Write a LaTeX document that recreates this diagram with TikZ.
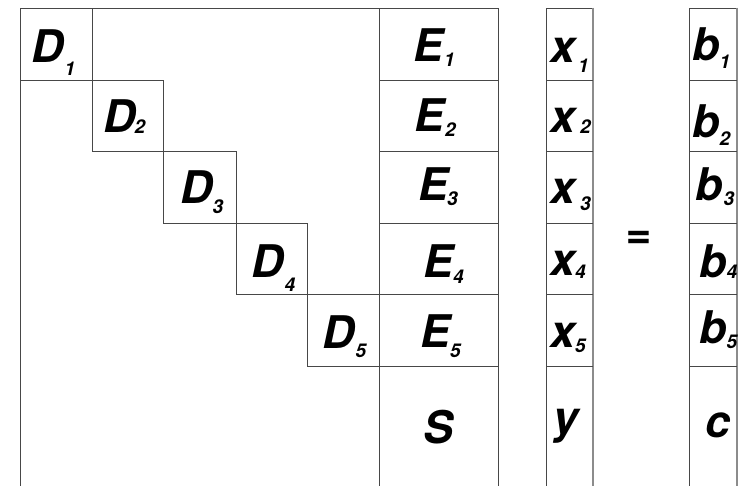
\documentclass[tikz,border=0pt]{standalone}
\usepackage{fontspec}
\setmainfont{TeX Gyre Heros}
\newcommand\mainsz{\fontsize{45}{45}\selectfont\bfseries\itshape}
\newcommand\subsz{\fontsize{19}{19}\selectfont\bfseries\itshape}
\newcommand\lbl[4]{{\mainsz #1}\kern#3pt\raisebox{-#4pt}{\subsz #2}}
\begin{document}
\begin{tikzpicture}[x=1pt,y=-1pt,
  gridline/.style={draw=black!72, line width=0.9pt},
  edgeline/.style={draw=black!45, line width=1.8pt},
  lab/.style={inner sep=0pt, anchor=base west}]
\useasboundingbox (0,0) rectangle (744,485);
% big matrix
\draw[gridline] (20,490) -- (20,8) -- (498,8) -- (498,490);
\draw[gridline] (20,8) rectangle (92,80);
\draw[gridline] (92,80) rectangle (163,151);
\draw[gridline] (163,151) rectangle (236,223);
\draw[gridline] (236,223) rectangle (307,294);
\draw[gridline] (307,294) rectangle (379,366);
\draw[gridline] (379,8) -- (379,490);
\foreach \yy in {80,151,223,294,366} \draw[gridline] (379,\yy) -- (498,\yy);
% x column
\draw[gridline] (546,490) -- (546,8) -- (593,8);
\draw[edgeline] (593,7.5) -- (593,490);
\foreach \yy in {80,151,223,294,366} \draw[gridline] (546,\yy) -- (593,\yy);
% b column
\draw[gridline] (689,490) -- (689,8) -- (737,8);
\draw[edgeline] (737,7.5) -- (737,490);
\foreach \yy in {80,151,223,294,366} \draw[gridline] (689,\yy) -- (737,\yy);
% labels
\node[lab] (d1) at (31,62) {\lbl{D}{1}{1}{13}};
\node[lab] (d2) at (103,132) {\lbl{D}{2}{-1}{1}};
\node[lab] (d3) at (180,203) {\lbl{D}{3}{0}{10}};
\node[lab] (d4) at (251,277) {\lbl{D}{4}{1}{14}};
\node[lab] (d5) at (322,348) {\lbl{D}{5}{1}{9}};
\node[lab] (e1) at (413,61) {\lbl{E}{1}{1}{5}};
\node[lab] (e2) at (414,131) {\lbl{E}{2}{1}{5}};
\node[lab] (e3) at (418,200) {\lbl{E}{3}{-1}{5}};
\node[lab] (e4) at (423,277) {\lbl{E}{4}{0}{6}};
\node[lab] (e5) at (420,347) {\lbl{E}{5}{0}{10}};
\node[lab] (s) at (423,443) {\mainsz S};
\node[lab] (x1) at (550,62) {\lbl{x}{1}{3}{10}};
\node[lab] (x2) at (550,132) {\lbl{x}{2}{5}{1}};
\node[lab] (x3) at (550,203) {\lbl{x}{3}{5}{7}};
\node[lab] (x4) at (550,275) {\lbl{x}{4}{0}{3}};
\node[lab] (x5) at (550,347) {\lbl{x}{5}{0}{5}};
\node[lab] (y) at (553,433) {\mainsz y};
\node[lab] (b1) at (692,60) {\lbl{b}{1}{0}{8}};
\node[lab] (b2) at (692,137) {\lbl{b}{2}{0}{8}};
\node[lab] (b3) at (695,200) {\lbl{b}{3}{1}{5}};
\node[lab] (b4) at (699,277) {\lbl{b}{4}{0}{1}};
\node[lab] (b5) at (699,343) {\lbl{b}{5}{0}{5}};
\node[lab] (c) at (705,437) {\mainsz c};
\node[inner sep=0pt, font=\fontsize{44}{44}\selectfont\bfseries\itshape] (eq) at (638,240) {=};
\end{tikzpicture}
\end{document}
